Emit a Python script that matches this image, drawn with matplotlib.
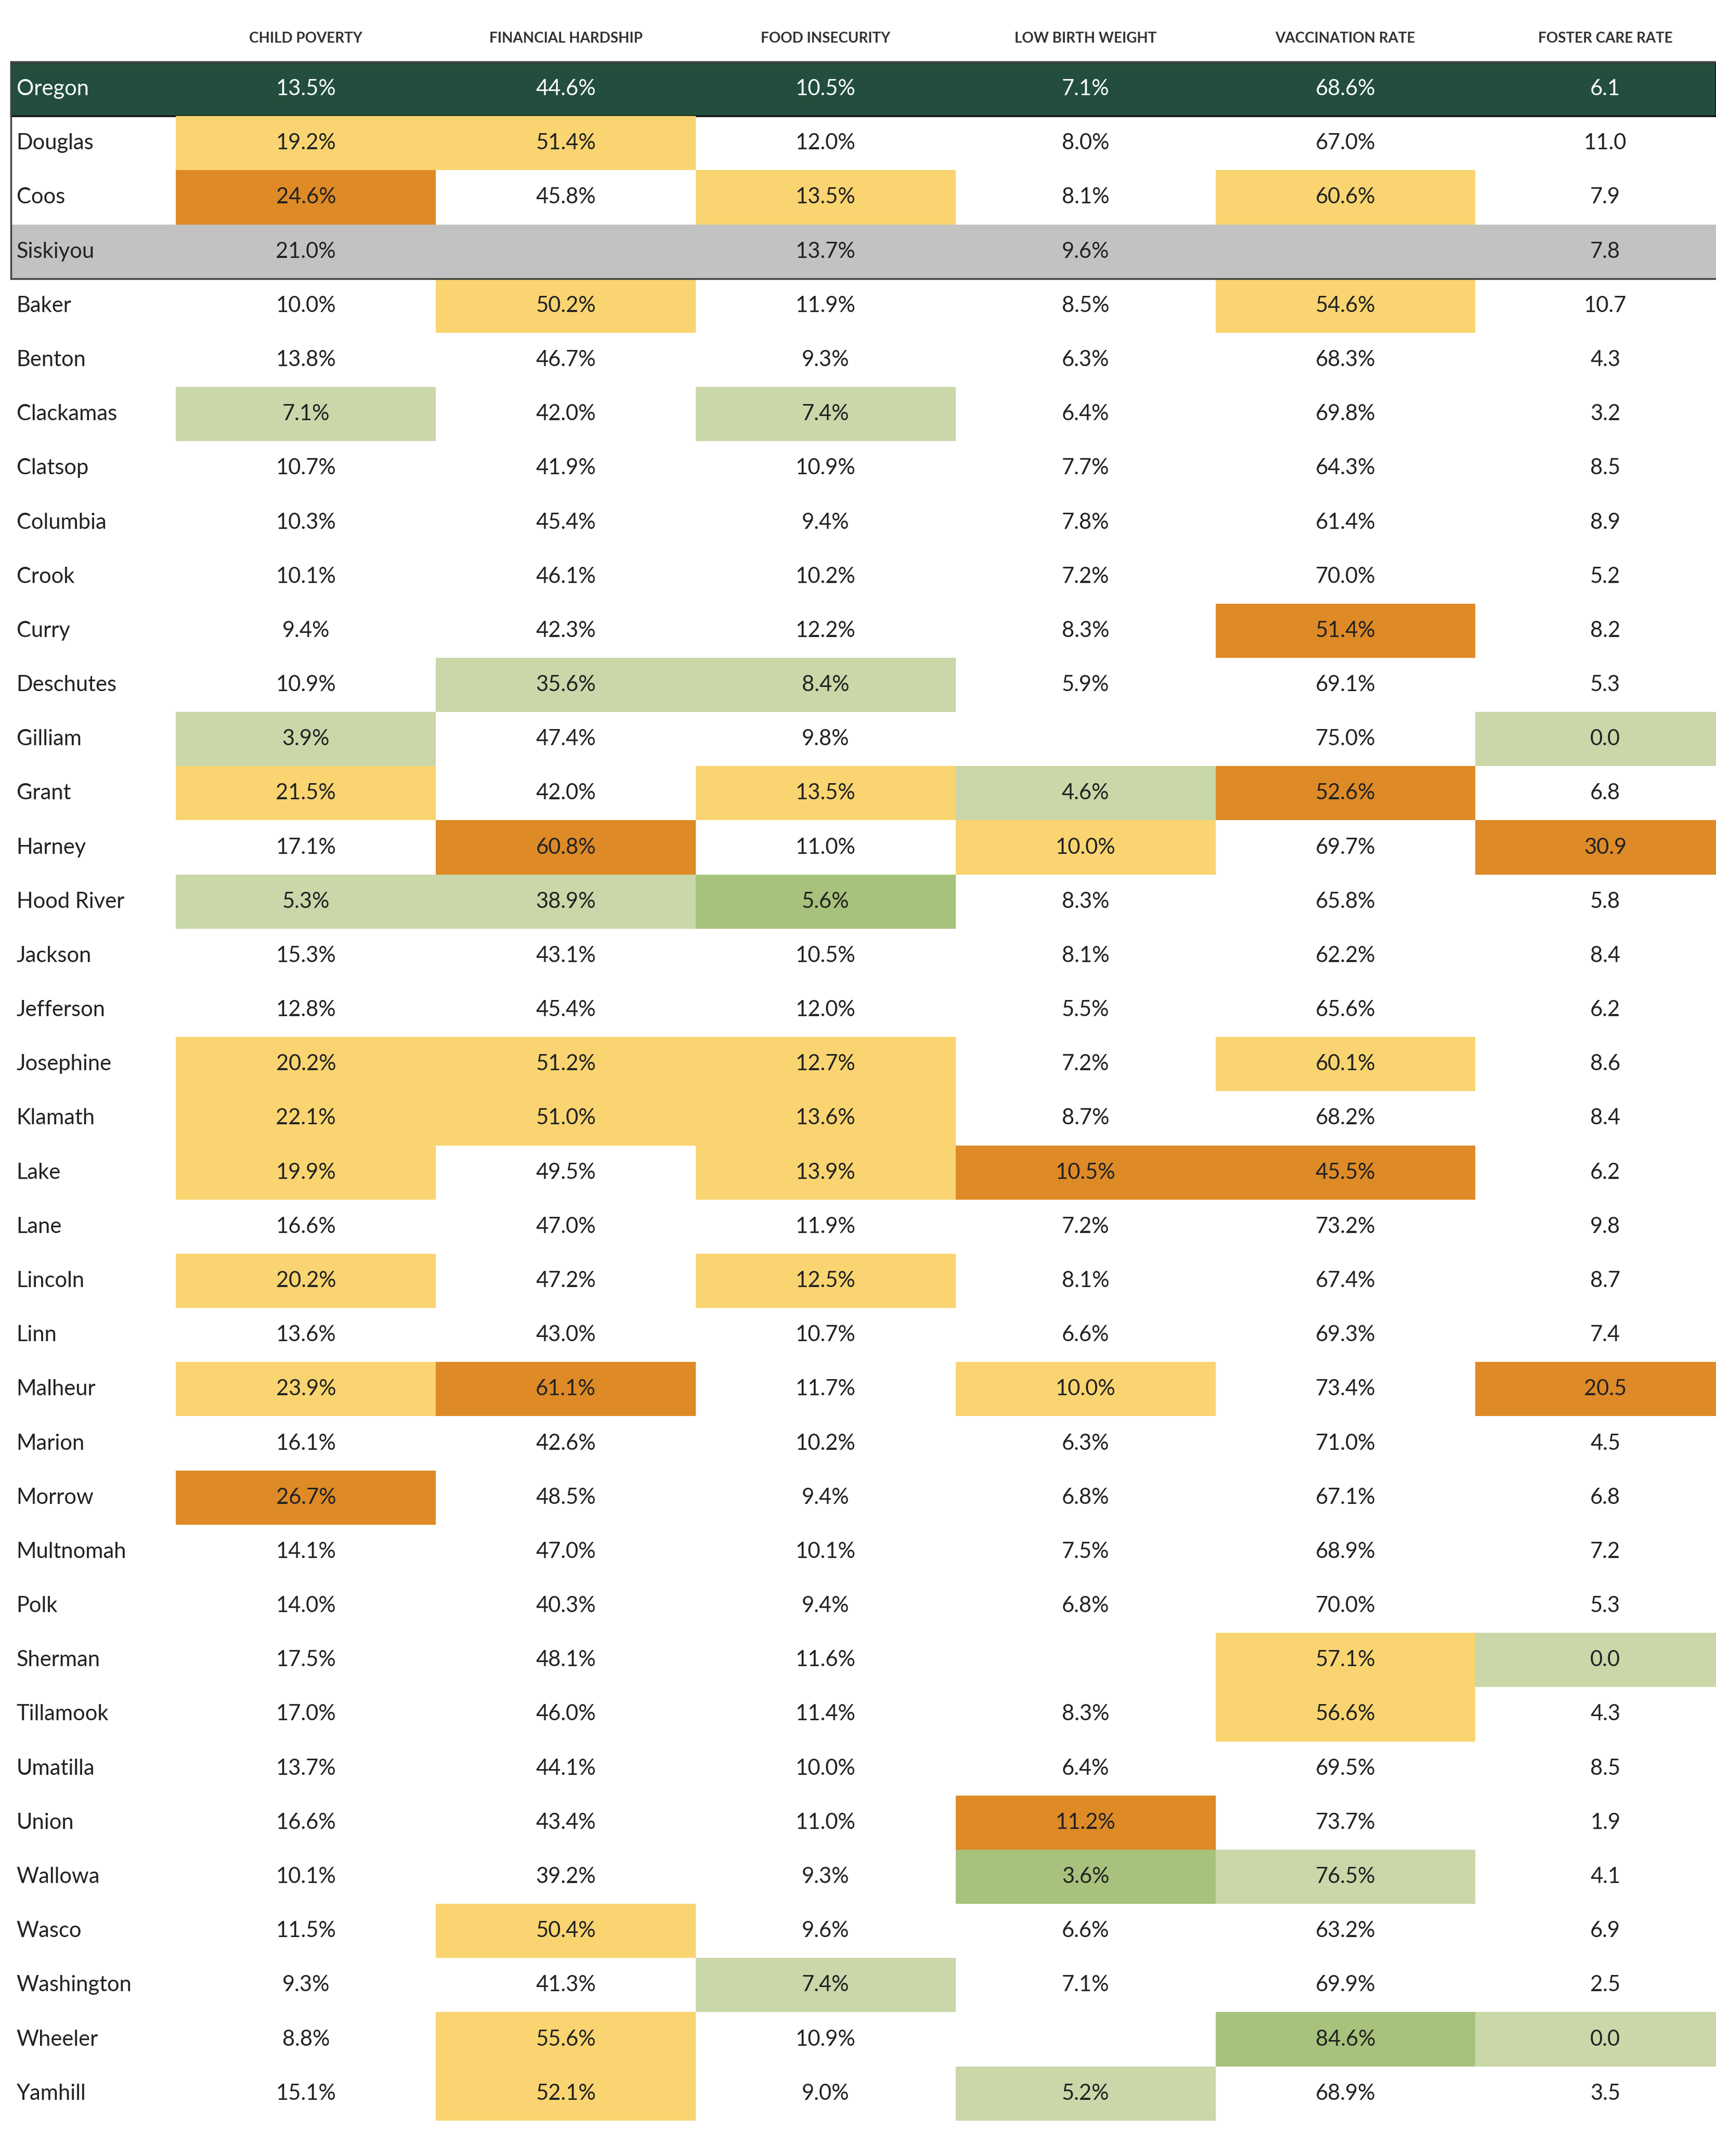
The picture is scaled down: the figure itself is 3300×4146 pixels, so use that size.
import matplotlib
matplotlib.use("Agg")
import matplotlib.pyplot as plt
from matplotlib.patches import Rectangle

plt.rcParams['font.family'] = ['Lato', 'DejaVu Sans']

# ── Data ────────────────────────────────────────────────────────────────────
COLUMNS = ["CHILD POVERTY", "FINANCIAL HARDSHIP", "FOOD INSECURITY",
           "LOW BIRTH WEIGHT", "VACCINATION RATE", "FOSTER CARE RATE"]

COUNTIES = ["Oregon", "Douglas", "Coos", "Siskiyou", "Baker", "Benton", "Clackamas",
            "Clatsop", "Columbia", "Crook", "Curry", "Deschutes", "Gilliam", "Grant",
            "Harney", "Hood River", "Jackson", "Jefferson", "Josephine", "Klamath",
            "Lake", "Lane", "Lincoln", "Linn", "Malheur", "Marion", "Morrow",
            "Multnomah", "Polk", "Sherman", "Tillamook", "Umatilla", "Union",
            "Wallowa", "Wasco", "Washington", "Wheeler", "Yamhill"]

child_poverty = ["13.5%", "19.2%", "24.6%", "21.0%", "10.0%", "13.8%", "7.1%", "10.7%",
                 "10.3%", "10.1%", "9.4%", "10.9%", "3.9%", "21.5%", "17.1%", "5.3%",
                 "15.3%", "12.8%", "20.2%", "22.1%", "19.9%", "16.6%", "20.2%", "13.6%",
                 "23.9%", "16.1%", "26.7%", "14.1%", "14.0%", "17.5%", "17.0%", "13.7%",
                 "16.6%", "10.1%", "11.5%", "9.3%", "8.8%", "15.1%"]
financial_hardship = ["44.6%", "51.4%", "45.8%", "", "50.2%", "46.7%", "42.0%", "41.9%",
                      "45.4%", "46.1%", "42.3%", "35.6%", "47.4%", "42.0%", "60.8%", "38.9%",
                      "43.1%", "45.4%", "51.2%", "51.0%", "49.5%", "47.0%", "47.2%", "43.0%",
                      "61.1%", "42.6%", "48.5%", "47.0%", "40.3%", "48.1%", "46.0%", "44.1%",
                      "43.4%", "39.2%", "50.4%", "41.3%", "55.6%", "52.1%"]
food_insecurity = ["10.5%", "12.0%", "13.5%", "13.7%", "11.9%", "9.3%", "7.4%", "10.9%",
                   "9.4%", "10.2%", "12.2%", "8.4%", "9.8%", "13.5%", "11.0%", "5.6%",
                   "10.5%", "12.0%", "12.7%", "13.6%", "13.9%", "11.9%", "12.5%", "10.7%",
                   "11.7%", "10.2%", "9.4%", "10.1%", "9.4%", "11.6%", "11.4%", "10.0%",
                   "11.0%", "9.3%", "9.6%", "7.4%", "10.9%", "9.0%"]
low_birth_weight = ["7.1%", "8.0%", "8.1%", "9.6%", "8.5%", "6.3%", "6.4%", "7.7%",
                    "7.8%", "7.2%", "8.3%", "5.9%", "", "4.6%", "10.0%", "8.3%",
                    "8.1%", "5.5%", "7.2%", "8.7%", "10.5%", "7.2%", "8.1%", "6.6%",
                    "10.0%", "6.3%", "6.8%", "7.5%", "6.8%", "", "8.3%", "6.4%",
                    "11.2%", "3.6%", "6.6%", "7.1%", "", "5.2%"]
vaccination_rate = ["68.6%", "67.0%", "60.6%", "", "54.6%", "68.3%", "69.8%", "64.3%",
                    "61.4%", "70.0%", "51.4%", "69.1%", "75.0%", "52.6%", "69.7%", "65.8%",
                    "62.2%", "65.6%", "60.1%", "68.2%", "45.5%", "73.2%", "67.4%", "69.3%",
                    "73.4%", "71.0%", "67.1%", "68.9%", "70.0%", "57.1%", "56.6%", "69.5%",
                    "73.7%", "76.5%", "63.2%", "69.9%", "84.6%", "68.9%"]
foster_care_rate = ["6.1", "11.0", "7.9", "7.8", "10.7", "4.3", "3.2", "8.5",
                    "8.9", "5.2", "8.2", "5.3", "0.0", "6.8", "30.9", "5.8",
                    "8.4", "6.2", "8.6", "8.4", "6.2", "9.8", "8.7", "7.4",
                    "20.5", "4.5", "6.8", "7.2", "5.3", "0.0", "4.3", "8.5",
                    "1.9", "4.1", "6.9", "2.5", "0.0", "3.5"]

# highlight class per cell: Y worse, O much worse, L better, G much better
flags = ["------", "YY----", "O-Y-Y-", "------", "-Y--Y-", "------", "L-L---",
         "------", "------", "------", "----O-", "-LL---", "L----L", "Y-YLO-",
         "-O-Y-O", "LLG---", "------", "------", "YYY-Y-", "YYY---", "Y-YOO-",
         "------", "Y-Y---", "------", "YO-Y-O", "------", "O-----", "------",
         "------", "----YL", "----Y-", "------", "---O--", "---GL-", "-Y----",
         "--L---", "-Y--GL", "-Y-L--"]

# ── Palette ─────────────────────────────────────────────────────────────────
DARK = "#234E3D"
GREY = "#C2C2C2"
FILL = {"Y": "#F9D470", "O": "#DD8A27", "L": "#C9D7A9", "G": "#A7C27C"}
TEXT = "#222222"

values = [child_poverty, financial_hardship, food_insecurity,
          low_birth_weight, vaccination_rate, foster_care_rate]

# layout in reference-preview units (1248 wide)
W, H = 1248, 1568
x0, xname = 8, 128
colw = 189
top = 45
rowh = 39.4

fig = plt.figure(figsize=(33, 41.46), dpi=100)
ax = fig.add_axes([0, 0, 1, 1])
ax.set_xlim(0, W)
ax.set_ylim(H, 0)
ax.axis("off")

for j, c in enumerate(COLUMNS):
    ax.text(xname + colw * (j + 0.5), 28, c, ha="center", va="center",
            fontsize=20, fontweight="bold", color="#333333")

for i, county in enumerate(COUNTIES):
    y = top + i * rowh
    special = county in ("Oregon", "Siskiyou")
    if county == "Oregon":
        ax.add_patch(Rectangle((x0, y), W - x0, rowh, fc=DARK, ec="#111111", lw=2.5, zorder=1))
        tc = "white"
    elif county == "Siskiyou":
        ax.add_patch(Rectangle((x0, y), W - x0, rowh, fc=GREY, ec="none", zorder=1))
        tc = TEXT
    else:
        tc = TEXT
    ax.text(x0 + 4, y + rowh / 2, county, ha="left", va="center",
            fontsize=30, color=tc, zorder=3)
    for j in range(6):
        f = flags[i][j]
        if not special and f in FILL:
            ax.add_patch(Rectangle((xname + colw * j, y), colw, rowh,
                                   fc=FILL[f], ec="none", zorder=1))
        ax.text(xname + colw * (j + 0.5), y + rowh / 2, values[j][i],
                ha="center", va="center", fontsize=30, color=tc, zorder=3)

# outline around the focus block (Oregon to Siskiyou)
ax.add_patch(Rectangle((x0, top), W - x0 + 2, rowh * 4, fc="none",
                       ec="#444444", lw=2.5, zorder=4))

fig.savefig("out.png", dpi=100)
